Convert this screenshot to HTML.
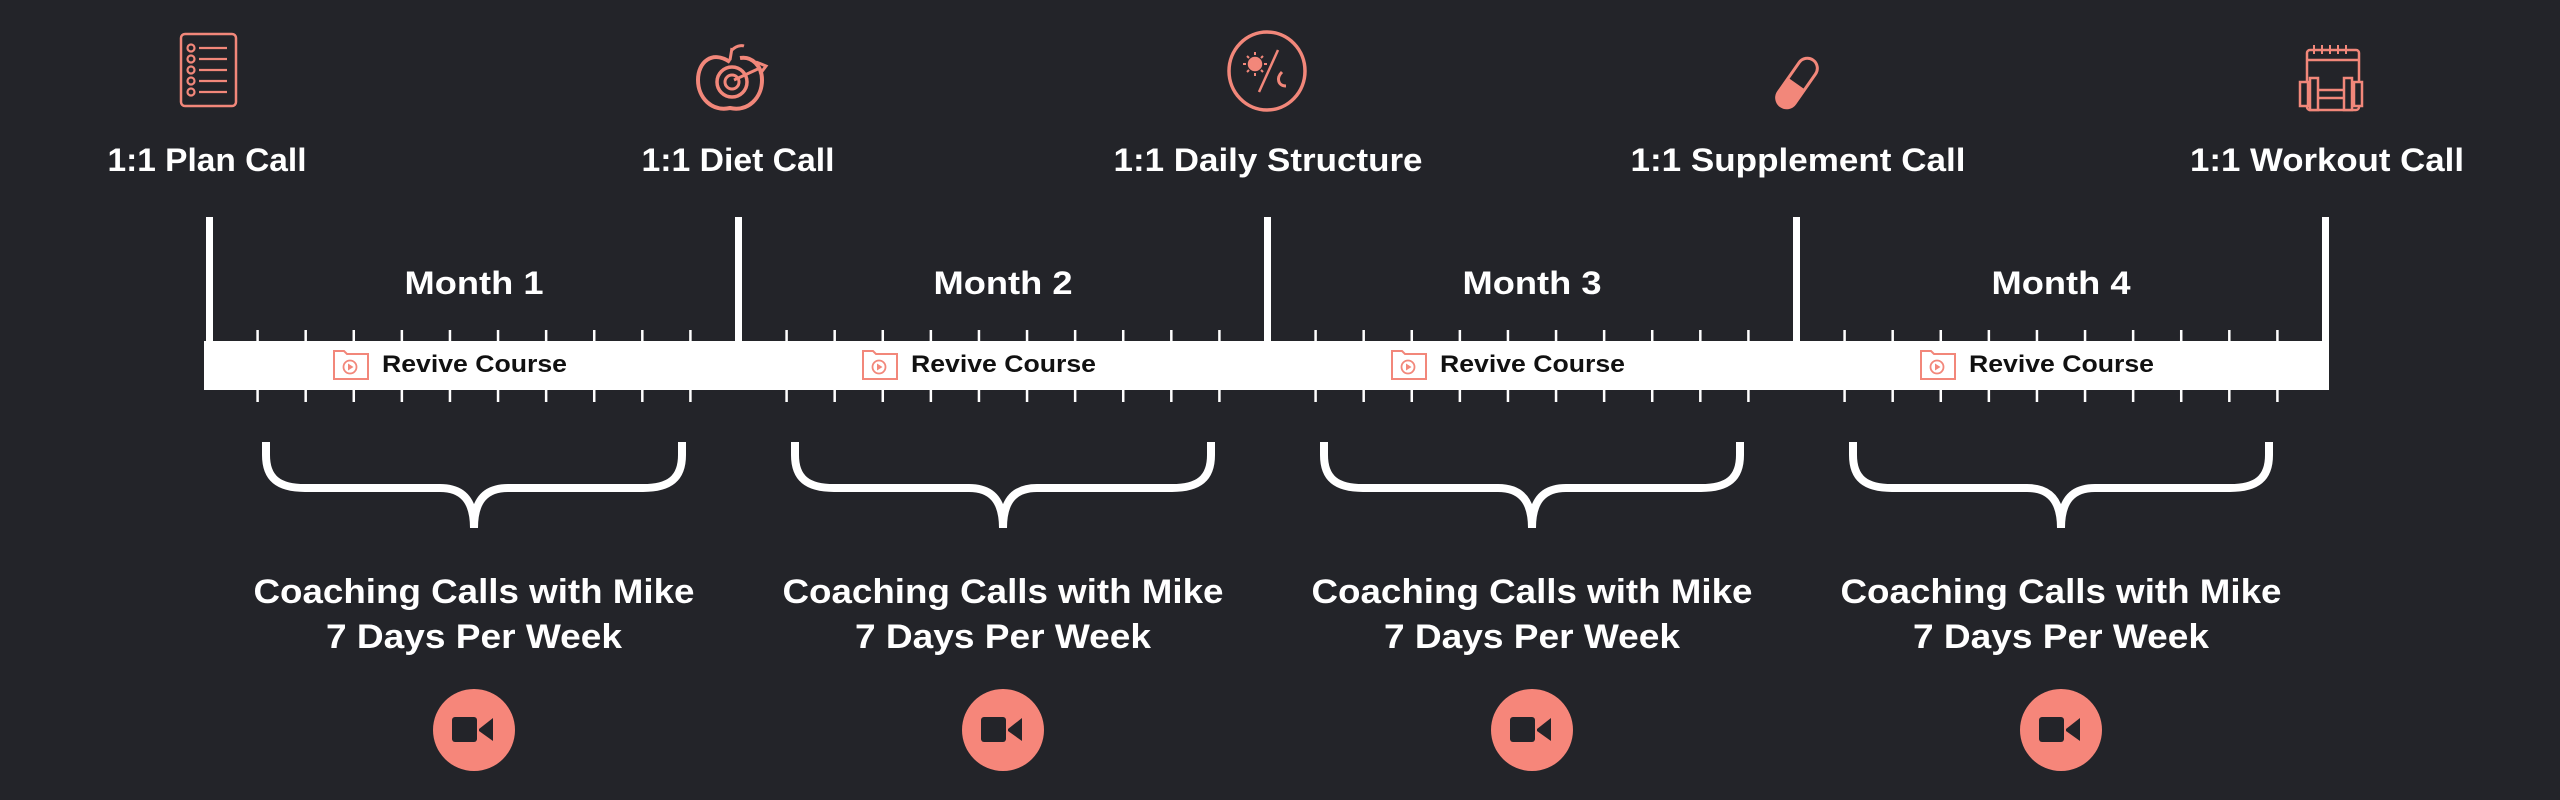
<!DOCTYPE html>
<html><head><meta charset="utf-8"><style>
html,body{margin:0;padding:0;background:#232429;}
svg{display:block}
text{font-family:"Liberation Sans",sans-serif;font-weight:bold}
</style></head><body>
<svg width="2560" height="800" viewBox="0 0 2560 800" xmlns="http://www.w3.org/2000/svg">
<rect width="2560" height="800" fill="#232429"/>
<!-- icons -->
<g stroke="#F2877A" fill="none" stroke-width="2.5">
  <rect x="181" y="34" width="55" height="72" rx="4"/>
  <g stroke-width="2.2">
  <line x1="199" y1="48" x2="227" y2="48"/><line x1="199" y1="59" x2="227" y2="59"/>
  <line x1="199" y1="70" x2="227" y2="70"/><line x1="199" y1="81" x2="227" y2="81"/><line x1="199" y1="92" x2="227" y2="92"/>
  <circle cx="191" cy="48" r="3.5"/><circle cx="191" cy="59" r="3.5"/><circle cx="191" cy="70" r="3.5"/><circle cx="191" cy="81" r="3.5"/><circle cx="191" cy="92" r="3.5"/>
  </g>
  <path d="M730 62 C712 50 698 62 698 80 C698 98 712 112 730 108 C748 112 762 98 762 80 C762 66 752 56 740 58" stroke-width="4"/>
  <circle cx="732" cy="82" r="15" stroke-width="3.5"/><circle cx="732" cy="82" r="7" stroke-width="3"/>
  <path d="M730 60 L732 48 M732 50 C738 44 744 46 744 46" stroke-width="3"/>
  <path d="M734 80 L760 68 M756 62 L766 66 L760 74" stroke-width="3"/>
  <ellipse cx="1267" cy="71" rx="38" ry="39" stroke-width="3.5"/>
  <circle cx="1255" cy="64" r="6" fill="#F2877A"/>
  <g stroke-width="2"><line x1="1255" y1="52" x2="1255" y2="55"/><line x1="1255" y1="73" x2="1255" y2="76"/><line x1="1243" y1="64" x2="1246" y2="64"/><line x1="1264" y1="64" x2="1267" y2="64"/><line x1="1247" y1="56" x2="1249" y2="58"/><line x1="1261" y1="70" x2="1263" y2="72"/><line x1="1247" y1="72" x2="1249" y2="70"/><line x1="1261" y1="58" x2="1263" y2="56"/></g>
  <line x1="1259" y1="92" x2="1278" y2="50" stroke-width="2.5"/>
  <path d="M1282 72 C1276 78 1278 86 1286 86" stroke-width="3"/>
  <g transform="rotate(35 1797 83)">
    <rect x="1787" y="55" width="20" height="56" rx="10" stroke-width="3"/>
    <path d="M1787 85 L1807 85 L1807 101 A10 10 0 0 1 1787 101 Z" fill="#F2877A"/>
  </g>
  <rect x="2307" y="50" width="52" height="60" rx="3" stroke-width="2.5"/>
  <g stroke-width="2"><line x1="2314" y1="45" x2="2314" y2="54"/><line x1="2322" y1="45" x2="2322" y2="54"/><line x1="2330" y1="45" x2="2330" y2="54"/><line x1="2338" y1="45" x2="2338" y2="54"/><line x1="2346" y1="45" x2="2346" y2="54"/></g>
  <line x1="2307" y1="60" x2="2359" y2="60"/>
  <rect x="2300" y="82" width="8" height="24" fill="#232429"/><rect x="2310" y="78" width="8" height="32" fill="#232429"/>
  <rect x="2344" y="78" width="8" height="32" fill="#232429"/><rect x="2354" y="82" width="8" height="24" fill="#232429"/>
  <line x1="2318" y1="90" x2="2344" y2="90"/><line x1="2318" y1="98" x2="2344" y2="98"/>
</g>
<g fill="#ffffff" font-size="32" text-anchor="middle">
  <text x="207" y="171" textLength="199" lengthAdjust="spacingAndGlyphs">1:1 Plan Call</text>
  <text x="738" y="171" textLength="193" lengthAdjust="spacingAndGlyphs">1:1 Diet Call</text>
  <text x="1268" y="171" textLength="309" lengthAdjust="spacingAndGlyphs">1:1 Daily Structure</text>
  <text x="1798" y="171" textLength="335" lengthAdjust="spacingAndGlyphs">1:1 Supplement Call</text>
  <text x="2327" y="171" textLength="274" lengthAdjust="spacingAndGlyphs">1:1 Workout Call</text>
</g>
<rect x="204" y="341" width="2124" height="49" fill="#ffffff"/>
<g fill="#ffffff">
  <rect x="206" y="217" width="7" height="173"/><rect x="735" y="217" width="7" height="173"/>
  <rect x="1264" y="217" width="7" height="173"/><rect x="1793" y="217" width="7" height="173"/>
  <rect x="2322" y="217" width="7" height="173"/>
</g>
<g id="ticks" stroke="#ffffff" stroke-width="2.5"></g>
<g fill="#ffffff" font-size="32" text-anchor="middle">
  <text x="474" y="294" textLength="139" lengthAdjust="spacingAndGlyphs">Month 1</text><text x="1003" y="294" textLength="139" lengthAdjust="spacingAndGlyphs">Month 2</text>
  <text x="1532" y="294" textLength="139" lengthAdjust="spacingAndGlyphs">Month 3</text><text x="2061" y="294" textLength="139" lengthAdjust="spacingAndGlyphs">Month 4</text>
</g>
<g id="rev"></g>
<g id="br"></g>
</svg>
<script>
var ns="http://www.w3.org/2000/svg";
var t=document.getElementById('ticks'),rv=document.getElementById('rev'),br=document.getElementById('br');
var starts=[209.5,738.5,1267.5,1796.5];
starts.forEach(function(s){
  for(var i=1;i<=10;i++){var x=s+529*i/11;
    [[330,341],[390,402]].forEach(function(y){var l=document.createElementNS(ns,'line');
      l.setAttribute('x1',x);l.setAttribute('x2',x);l.setAttribute('y1',y[0]);l.setAttribute('y2',y[1]);t.appendChild(l);});}
  var c=s+264.5, o=c-474;
  rv.innerHTML+='<g transform="translate('+o+',0)"><path d="M334 351 L344 351 L347 354 L368 354 L368 379 L334 379 Z" fill="none" stroke="#F2877A" stroke-width="2"/><circle cx="350" cy="367" r="6.5" fill="none" stroke="#F2877A" stroke-width="1.8"/><path d="M348 363.5 L353.5 367 L348 370.5Z" fill="#F2877A"/><text x="382" y="372" font-size="24" fill="#111" textLength="185" lengthAdjust="spacingAndGlyphs">Revive Course</text></g>';
  br.innerHTML+='<g transform="translate('+o+',0)"><path d="M266 442 L266 455 C266 478 278 488 305 488 L440 488 C462 488 474 500 474 528 C474 500 486 488 508 488 L643 488 C670 488 682 478 682 455 L682 442" fill="none" stroke="#fff" stroke-width="8"/><text x="474" y="603" font-size="34" fill="#fff" text-anchor="middle" textLength="441" lengthAdjust="spacingAndGlyphs">Coaching Calls with Mike</text><text x="474" y="648" font-size="34" fill="#fff" text-anchor="middle" textLength="296" lengthAdjust="spacingAndGlyphs">7 Days Per Week</text><circle cx="474" cy="730" r="41" fill="#F6867A"/><rect x="452" y="717" width="25" height="25" rx="3" fill="#232429"/><path d="M479 729 L493 718 L493 741 L479 731Z" fill="#232429"/></g>';
});
</script>
</body></html>
